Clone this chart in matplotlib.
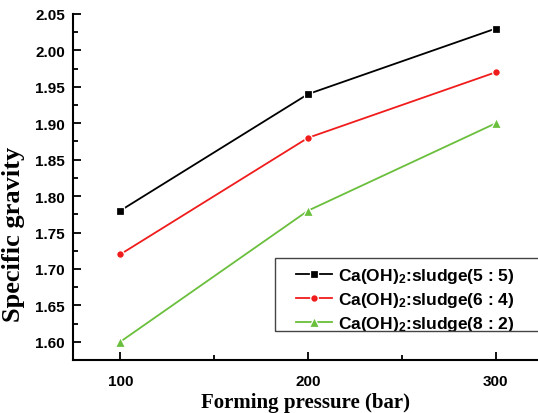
import matplotlib
matplotlib.use("Agg")
import matplotlib.pyplot as plt
from matplotlib.ticker import MultipleLocator, FormatStrFormatter
from matplotlib.patches import Rectangle

pressure = [100, 200, 300]
sg_55 = [1.78, 1.94, 2.03]
sg_64 = [1.72, 1.88, 1.97]
sg_82 = [1.60, 1.78, 1.90]
labels = ["Ca(OH)$\\mathregular{_2}$:sludge(5 : 5)",
          "Ca(OH)$\\mathregular{_2}$:sludge(6 : 4)",
          "Ca(OH)$\\mathregular{_2}$:sludge(8 : 2)"]
colors = ["#000000", "#f01c1c", "#6abf3c"]
markers = ["s", "o", "^"]
msizes = [5.5, 5.5, 7.5]
series = [sg_55, sg_64, sg_82]

fig = plt.figure(figsize=(5.38, 4.14), dpi=100)
ax = fig.add_axes([0.1363, 0.128, 0.8637, 0.8358])

for ys, c, m, ms, lab in zip(series, colors, markers, msizes, labels):
    ax.plot(pressure, ys, color=c, marker=m, markersize=ms, lw=1.3,
            markeredgecolor="white", markeredgewidth=0.9, markerfacecolor=c,
            label=lab)

ax.set_xlim(75, 322.5)
ax.set_ylim(1.575, 2.05)
ax.set_xticks(pressure)
ax.xaxis.set_minor_locator(MultipleLocator(50))
ax.yaxis.set_major_locator(MultipleLocator(0.05))
ax.yaxis.set_minor_locator(MultipleLocator(0.025))
ax.yaxis.set_major_formatter(FormatStrFormatter("%.2f"))

for s in ["top", "right"]:
    ax.spines[s].set_visible(False)
for s in ["left", "bottom"]:
    ax.spines[s].set_linewidth(1.5)

ax.tick_params(which="major", direction="in", length=6, width=1.3, pad=6)
ax.tick_params(which="minor", direction="in", length=3.5, width=1.3)
for lab in ax.get_xticklabels() + ax.get_yticklabels():
    lab.set_fontfamily("Liberation Sans")
    lab.set_fontweight("bold")
    lab.set_fontsize(11)
ax.tick_params(axis="x", pad=10)

ax.set_xlabel("Forming pressure (bar)", fontfamily="Liberation Serif",
              fontweight="bold", fontsize=15, labelpad=3)
ax.set_ylabel("Specific gravity", fontfamily="Liberation Serif",
              fontweight="bold", fontsize=19)
ax.yaxis.set_label_coords(-0.103, 0.367)

# legend frame
fig.patches.append(Rectangle((275 / 538, 1 - 332 / 414), 1.0, (332 - 259) / 414,
                             transform=fig.transFigure, fill=False,
                             edgecolor="#444444", lw=1.0))

leg = ax.legend(loc="upper left", bbox_to_anchor=(296 / 538, 1 - 267 / 414),
                bbox_transform=fig.transFigure,
                prop={"family": "Liberation Sans", "weight": "bold", "size": 12.5},
                frameon=False, handlelength=2.1, handletextpad=0.3,
                labelspacing=0.3, borderpad=0, borderaxespad=0)

fig.savefig("out.png", dpi=100)
